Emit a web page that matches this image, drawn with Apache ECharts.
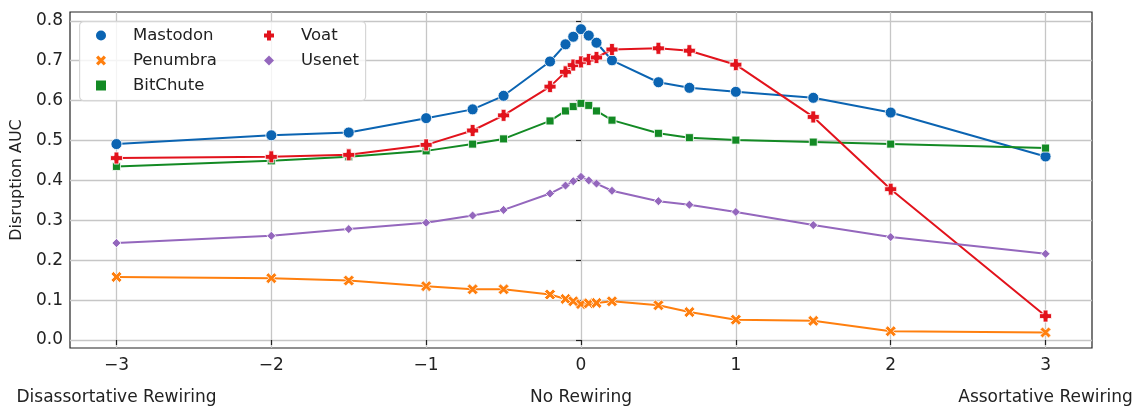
<!DOCTYPE html>
<html><head><meta charset="utf-8">
<script src="https://cdn.jsdelivr.net/npm/echarts@6/dist/echarts.min.js"></script>
<style>html,body{margin:0;padding:0;background:#fff}#c{width:1133px;height:407px}</style>
</head><body><div id="c"></div>
<script>
const xValues = [-3,-2,-1.5,-1,-0.7,-0.5,-0.2,-0.1,-0.05,0,0.05,0.1,0.2,0.5,0.7,1,1.5,2,3];
const mastodon = [0.491,0.513,0.520,0.556,0.578,0.612,0.698,0.741,0.760,0.779,0.763,0.745,0.701,0.646,0.632,0.622,0.607,0.570,0.460];
const penumbra = [0.158,0.155,0.149,0.135,0.127,0.127,0.114,0.103,0.097,0.090,0.092,0.093,0.097,0.087,0.070,0.051,0.048,0.022,0.019];
const bitchute = [0.435,0.449,0.459,0.474,0.491,0.504,0.549,0.574,0.585,0.593,0.588,0.574,0.551,0.518,0.507,0.501,0.496,0.491,0.481];
const voat = [0.456,0.459,0.464,0.489,0.525,0.563,0.635,0.672,0.689,0.697,0.703,0.708,0.728,0.731,0.725,0.690,0.559,0.378,0.060];
const usenet = [0.243,0.261,0.278,0.294,0.312,0.326,0.367,0.387,0.398,0.409,0.400,0.392,0.374,0.348,0.339,0.321,0.288,0.258,0.216];
const xTicks = [-3,-2,-1,0,1,2,3];
const yTicks = [0,0.1,0.2,0.3,0.4,0.5,0.6,0.7,0.8];
const bottomLabels = [{x:-3,text:'Disassortative Rewiring'},{x:0,text:'No Rewiring'},{x:3,text:'Assortative Rewiring'}];

const FONT = 'DejaVu Sans';
const PLUS = 'path://M-1.2,-3H1.2V-1.2H3V1.2H1.2V3H-1.2V1.2H-3V-1.2H-1.2Z';
const XSYM = 'path://M0,-1.6L1.9,-3.5L3.5,-1.9L1.6,0L3.5,1.9L1.9,3.5L0,1.6L-1.9,3.5L-3.5,1.9L-1.6,0L-3.5,-1.9L-1.9,-3.5Z';

const defs = [
  {name:'Mastodon', data:mastodon, color:'#0b64b2', symbol:'circle', size:11},
  {name:'Penumbra', data:penumbra, color:'#ff7f0e', symbol:XSYM, size:11},
  {name:'BitChute', data:bitchute, color:'#138a24', symbol:'rect', size:8},
  {name:'Voat', data:voat, color:'#e2131c', symbol:PLUS, size:12},
  {name:'Usenet', data:usenet, color:'#9467bd', symbol:'diamond', size:9}
];

const chart = echarts.init(document.getElementById('c'), null, {renderer:'canvas'});
const series = defs.map(d => ({
  name:d.name, type:'line', data:xValues.map((x,i)=>[x,d.data[i]]),
  symbol:d.symbol, symbolSize:d.size, showAllSymbol:true,
  lineStyle:{color:d.color,width:2}, itemStyle:{color:d.color,borderColor:'#fff',borderWidth:0.8},
  emphasis:{disabled:true}, animation:false
}));

const legendCommon = {
  orient:'vertical', itemWidth:10, itemHeight:10, itemGap:8, padding:0,
  itemStyle:{borderWidth:0},
  textStyle:{fontFamily:FONT,fontSize:16.5,color:'#222',padding:[0,0,0,22]},
  selectedMode:false
};

chart.setOption({
  animation:false,
  grid:{left:70,right:41,top:12,bottom:59,outerBoundsMode:'none',containLabel:false,show:true,borderColor:'#222',borderWidth:1.2,backgroundColor:'transparent'},
  xAxis:{type:'value',min:-3.3,max:3.3,
    axisLine:{show:false},
    axisTick:{show:true,length:5,lineStyle:{color:'#222',width:1.2},customValues:xTicks},
    axisLabel:{customValues:xTicks,fontFamily:FONT,fontSize:17,color:'#222',margin:9,
      formatter:v=>String(v).replace('-','\u2212')},
    splitLine:{show:true,lineStyle:{color:'#c6c6c6',width:1.3}}
  },
  yAxis:{type:'value',min:-0.02,max:0.822,name:'Disruption AUC',nameLocation:'middle',nameGap:45,
    nameTextStyle:{fontFamily:FONT,fontSize:16,color:'#222'},
    axisLine:{show:false},
    axisTick:{show:true,length:5,lineStyle:{color:'#222',width:1.2},customValues:yTicks},
    axisLabel:{customValues:yTicks,fontFamily:FONT,fontSize:17,color:'#222',margin:7,formatter:v=>v.toFixed(1)},
    splitLine:{show:true,lineStyle:{color:'#c6c6c6',width:1.3}}
  },
  legend:[
    Object.assign({left:96,top:27,data:[
      {name:'Mastodon',icon:'circle'},{name:'Penumbra',icon:XSYM},{name:'BitChute',icon:'rect'}]},legendCommon),
    Object.assign({left:264,top:27,data:[{name:'Voat',icon:PLUS},{name:'Usenet',icon:'diamond'}]},legendCommon)
  ],
  series:series
});

const gfx = [{type:'rect',left:79,top:21,z:1,shape:{width:286,height:79,r:4},
  style:{fill:'rgba(255,255,255,0.8)',stroke:'#d6d6d6',lineWidth:1.2},silent:true}];
bottomLabels.forEach(b=>{
  const px = chart.convertToPixel({xAxisIndex:0},b.x);
  gfx.push({type:'text',x:px,y:398,style:{text:b.text,fontFamily:FONT,fontSize:17,fill:'#222',align:'center',verticalAlign:'middle'}});
});
chart.setOption({graphic:gfx},{replaceMerge:['graphic']});
</script></body></html>
